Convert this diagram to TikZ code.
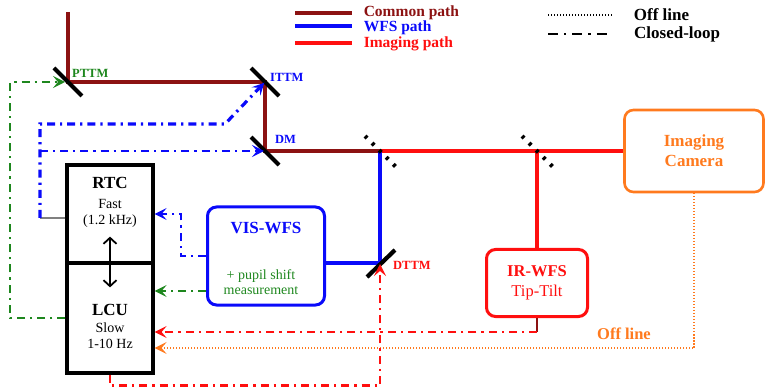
\documentclass[tikz,border=0pt]{standalone}
\usepackage{fontspec}
\setmainfont{Liberation Serif}
\usepackage{tikz}
\usepackage{xcolor}
\usetikzlibrary{
    arrows.meta,
    calc,
    positioning
}
\definecolor{commonred}{RGB}{140,18,18}
\definecolor{wfsblue}{RGB}{10,10,250}
\definecolor{imgred}{RGB}{255,15,15}
\definecolor{loopgreen}{RGB}{30,135,30}
\definecolor{camorange}{RGB}{255,122,30}
\newcommand{\boxtitle}{\fontsize{17}{20}\selectfont\bfseries}
\tikzset{
    beam/.style={line width=3.6pt},
    mirror/.style={line width=4.2pt, black},
    dichroic/.style={line width=4pt, black, dash pattern=on 3pt off 7pt},
    closedloop/.style={line width=2.6pt, dash pattern=on 8pt off 5pt on 2.2pt off 5pt},
    offline/.style={line width=1.7pt, dash pattern=on 1.2pt off 1.8pt},
    loopend/.style={-{Stealth[length=12pt, width=12pt, inset=5pt]}},
    ctrlbox/.style={draw=black, line width=3.2pt, minimum width=86},
    wfsbox/.style={draw, line width=3pt, rounded corners=9pt},
    boxtext/.style={align=center, inner sep=0pt, font=\fontsize{14}{16}\selectfont},
    tagtext/.style={anchor=west, inner sep=0pt, font=\fontsize{12.5}{14}\selectfont\bfseries},
    legendtext/.style={inner sep=0pt, font=\fontsize{15.5}{17}\selectfont\bfseries}
}
\begin{document}
\begin{tikzpicture}[x=1pt, y=-1pt]
    \useasboundingbox (0,0) rectangle (766,390);

    \coordinate (top) at (68,12);
    \coordinate (pttm) at (68,82);
    \coordinate (ittm) at (265,82);
    \coordinate (dm) at (265,151);
    \coordinate (dich1) at (380,151);
    \coordinate (dich2) at (537,151);
    \coordinate (dttm) at (380,263);

    \node[ctrlbox, minimum height=98] (rtc) at (110,214) {};
    \node[ctrlbox, minimum height=110] (lcu) at (110,318) {};
    \node[boxtext, below=13.5pt of rtc.north] (rtctext) {{\boxtitle RTC}\\[4pt]Fast\\(1.2 kHz)};
    \node[boxtext, below=42.5pt of lcu.north] (lcutext) {{\boxtitle LCU}\\[1pt]Slow\\1-10 Hz};

    \node[wfsbox, draw=wfsblue, minimum width=117, minimum height=98] (vis) at (266,256) {};
    \node[boxtext, text=wfsblue, below=16.5pt of vis.north] (vistext) {\boxtitle VIS-WFS};
    \node[boxtext, text=loopgreen, font=\fontsize{14}{15}\selectfont, above=12pt of vis.south, xshift=-5pt] (pupiltext) {+ pupil shift\\measurement};

    \node[wfsbox, draw=imgred, text=imgred, align=center, minimum width=101, minimum height=67,
          font=\fontsize{16.5}{20}\selectfont] (irwfs) at (537,283) {\textbf{IR-WFS}\\Tip-Tilt};
    \node[wfsbox, draw=camorange, text=camorange, line width=2.6pt, align=center, minimum width=139, minimum height=82,
          font=\fontsize{17}{20}\selectfont\bfseries] (cam) at (694,151) {Imaging\\Camera};

    \draw[beam, commonred] (top) -- (pttm) -- (ittm) -- (dm) -- (dich1);
    \draw[beam, imgred] (dich1) -- (cam.west);
    \draw[beam, imgred] (dich2) -- (irwfs.north);
    \draw[beam, wfsblue] (dich1) -- (dttm) -- (dttm -| vis.east);

    \foreach \m in {pttm, ittm, dm}
        \draw[mirror] ([shift={(-14,-14)}]\m) -- ([shift={(14,14)}]\m);
    \draw[mirror] ([shift={(-13,14)}]dttm) -- ([shift={(15,-13)}]dttm);
    \foreach \m in {dich1, dich2}
        \draw[dichroic] ([shift={(-15,-15)}]\m) -- ([shift={(16,16)}]\m);

    \node[tagtext, text=loopgreen] (pttmtag) at ([shift={(4,-9)}]pttm) {PTTM};
    \node[tagtext, text=wfsblue] (ittmtag) at ([shift={(5,-5)}]ittm) {ITTM};
    \node[tagtext, text=wfsblue] (dmtag) at ([shift={(10,-12)}]dm) {DM};
    \node[tagtext, text=imgred] (dttmtag) at ([shift={(13,2)}]dttm) {DTTM};

    \draw[{Straight Barb[length=6pt, width=13pt]}-{Straight Barb[length=6pt, width=13pt]}, line width=1.8pt]
        ([yshift=28pt]rtc.south) -- ([yshift=-26pt]lcu.north);

    \draw[closedloop, loopgreen, loopend, shorten >=3pt] (lcu.west) -| (10,82) -- (pttm);

    \coordinate (bluefork) at (40,218);
    \draw[gray, line width=1.2pt] (bluefork -| rtc.west) -- (bluefork);
    \draw[closedloop, wfsblue, line width=3.2pt, loopend, shorten >=1pt] (bluefork) -- (40,124) -- (225,124) -- (ittm);
    \draw[closedloop, wfsblue, loopend, shorten >=1pt] (40,151) -- (dm);

    \draw[closedloop, wfsblue, loopend] (vis.west) -| (181,214) -- (rtc.east);
    \coordinate (pupilout) at ([yshift=-35pt]vis.west);
    \draw[closedloop, loopgreen, loopend] (pupilout) -- (pupilout -| lcu.east);

    \draw[line width=2.2pt, commonred] (irwfs.south) -- ++(0,14) coordinate (tiltout);
    \draw[closedloop, imgred, loopend] (tiltout) -- (tiltout -| lcu.east);

    \draw[offline, camorange, loopend] (cam.south) |- ([yshift=-30pt]lcu.east);
    \node[legendtext, text=camorange, font=\fontsize{16.5}{18}\selectfont\bfseries] (offtag) at (624,334) {Off line};

    \draw[closedloop, imgred, loopend, shorten >=1pt] (lcu.south) -- ++(0,11) -| (dttm);

    \draw[beam, commonred] (295,13) -- (352,13) node[legendtext, text=commonred, right=10pt] {Common path};
    \draw[beam, wfsblue] (295,26) -- (352,26) node[legendtext, text=wfsblue, right=10pt, yshift=-2pt] {WFS path};
    \draw[beam, imgred] (295,43) -- (352,43) node[legendtext, text=imgred, right=10pt, yshift=-1pt] {Imaging path};
    \draw[offline, line width=1.8pt] (548,15) -- (612,15)
        node[legendtext, font=\fontsize{17}{18}\selectfont\bfseries, right=21pt] {Off line};
    \draw[closedloop, line width=2.4pt, dash pattern=on 10pt off 6pt on 2.4pt off 6pt] (548,34) -- (612,34)
        node[legendtext, font=\fontsize{17}{18}\selectfont\bfseries, right=21pt] {Closed-loop};
\end{tikzpicture}
\end{document}
